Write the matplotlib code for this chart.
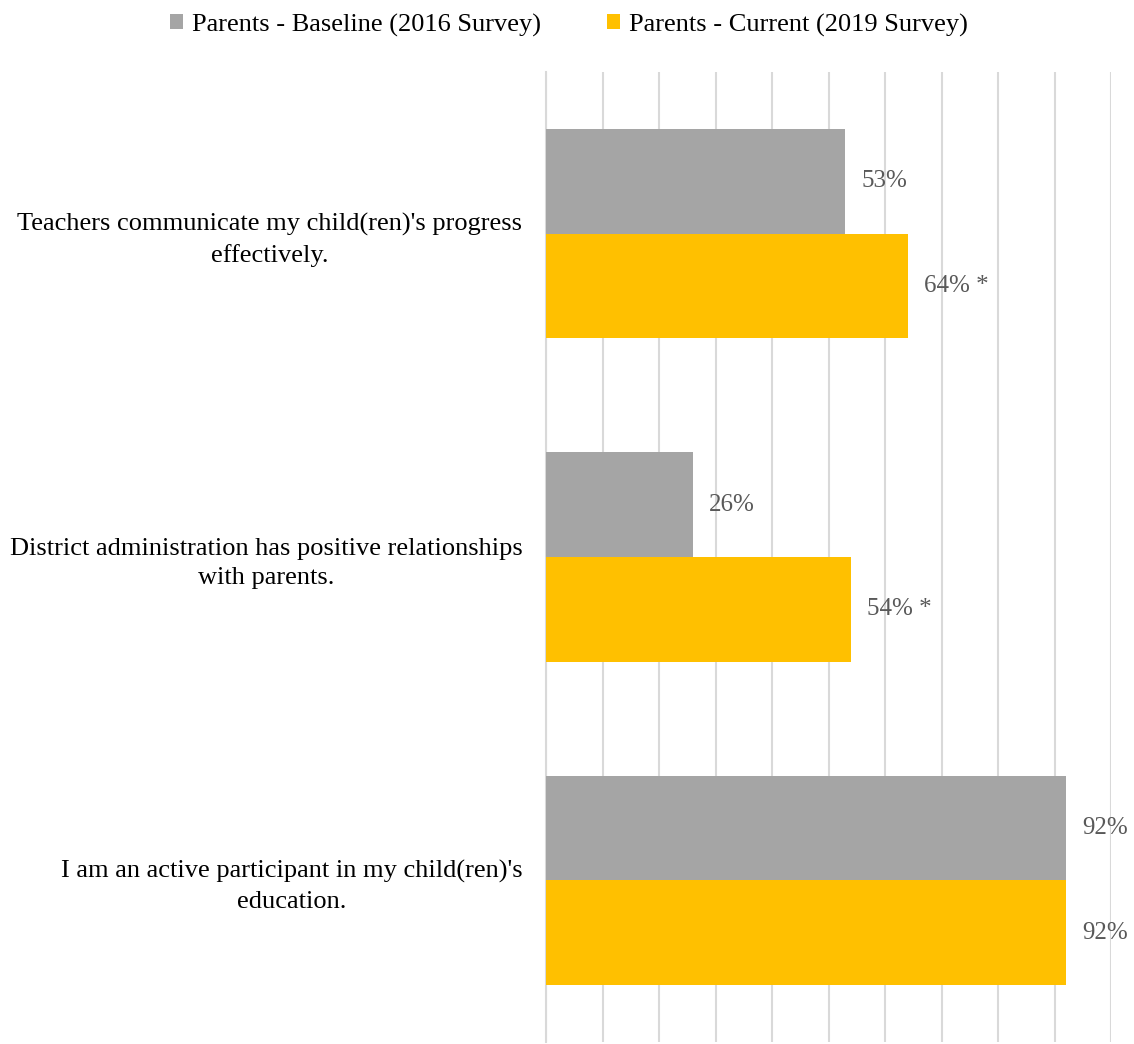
import matplotlib
matplotlib.use("Agg")
import matplotlib.pyplot as plt
import numpy as np

plt.rcParams["font.family"] = ["Liberation Serif", "DejaVu Serif"]

# data
categories = ["Teachers communicate my child(ren)'s progress\neffectively.",
              "District administration has positive relationships\nwith parents.",
              "I am an active participant in my child(ren)'s\neducation."]
baseline = [53, 26, 92]
current = [64, 54, 92]
current_labels = ["64% *", "54% *", "92%"]
series_names = ["Parents - Baseline (2016 Survey)", "Parents - Current (2019 Survey)"]
colors = ["#A5A5A5", "#FFC000"]

fig = plt.figure(figsize=(11.34, 10.44), dpi=100)
ax = fig.add_axes([546 / 1134, 2 / 1044, 565 / 1134, 970 / 1044])

y = np.arange(len(categories))
h = 0.324
b1 = ax.barh(y - h / 2, baseline, height=h, color=colors[0], label=series_names[0], zorder=3)
b2 = ax.barh(y + h / 2, current, height=h, color=colors[1], label=series_names[1], zorder=3)

# value labels
for yi, v in zip(y, baseline):
    ax.text(v + 2.9, yi - h / 2, "%d%%" % v, va="center", ha="left",
            fontsize=18, color="#595959", clip_on=False)
for yi, v, lab in zip(y, current, current_labels):
    ax.text(v + 2.9, yi + h / 2, lab, va="center", ha="left",
            fontsize=18, color="#595959", clip_on=False)

ax.set_xlim(0, 100)
ax.set_ylim(2.5, -0.5)
ax.set_xticks(np.arange(0, 101, 10))
ax.set_xticklabels([])
ax.tick_params(length=0)
ax.grid(axis="x", color="#D9D9D9", linewidth=1.5, zorder=0)
for s in ["top", "right", "bottom"]:
    ax.spines[s].set_visible(False)
ax.spines["left"].set_color("#D9D9D9")
ax.spines["left"].set_linewidth(1.5)

ax.set_yticks(y)
ax.set_yticklabels(categories, fontsize=19, color="#000000", multialignment="center",
                   linespacing=1.45)
ax.tick_params(axis="y", pad=17)

fig.legend(handles=[b1, b2], loc="center", bbox_to_anchor=(569 / 1134, 1 - 25 / 1044),
           ncol=2, frameon=False, fontsize=19, handlelength=0.49, handleheight=0.49,
           handletextpad=0.34, columnspacing=2.5)

plt.savefig("out.png", dpi=100)
plt.close("all")
